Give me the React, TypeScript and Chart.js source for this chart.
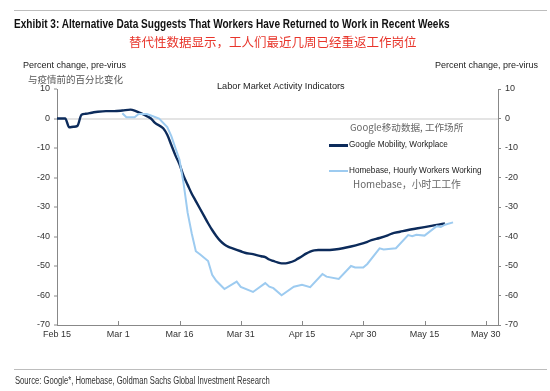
import React, { useEffect, useRef } from "react";
import { Chart, registerables } from "chart.js";

Chart.register(...registerables);

const googleDays = [0, 1, 2, 3, 4, 5, 6, 7, 8, 9, 10, 12, 14, 16, 18, 19, 20, 22, 23, 24, 26, 27, 28, 29, 30, 31, 32, 33, 34, 35, 36, 37, 38, 39, 40, 41, 42, 43, 44, 45, 46, 48, 50, 51, 52, 53, 54, 55, 56, 57, 58, 59, 60, 61, 62, 63, 64, 66, 68, 70, 72, 74, 76, 77, 79, 81, 82, 84, 86, 88, 90, 92, 94, 95];
const googleValues = [0, 0, 0, -3, -2.8, -2.5, 1.3, 1.6, 1.8, 2.1, 2.3, 2.5, 2.5, 2.7, 3.0, 2.7, 2.1, 0.8, 0, -1.5, -3.3, -5.5, -9, -12.5, -15.5, -19.5, -22.5, -25.5, -28, -30.5, -33, -35.5, -37.8, -39.8, -41.5, -42.7, -43.5, -44, -44.5, -45, -45.5, -46, -46.7, -47, -47.8, -48.3, -48.8, -49.1, -49.1, -48.8, -48.3, -47.5, -46.7, -45.8, -45.1, -44.7, -44.6, -44.6, -44.4, -44, -43.4, -42.7, -41.8, -41.2, -40.5, -39.6, -39, -38.4, -37.8, -37.3, -36.8, -36.3, -35.8, -35.6];

const homebaseDays = [16, 17, 19, 20, 22, 23, 25, 27, 28, 29, 30, 31, 32, 33, 34, 35, 37, 38, 39, 41, 44, 45, 48, 51, 52, 53, 55, 58, 60, 62, 65, 66, 69, 72, 73, 75, 76, 79, 80, 83, 86, 87, 88, 90, 93, 94, 95, 97];
const homebaseValues = [1.8, 0.4, 0.4, 1.5, 1.5, 1.0, 0, -2.9, -6, -10, -14, -22, -32, -39, -45, -46, -48.3, -53, -55, -57.8, -55.3, -57.1, -58.8, -55.8, -57, -57.5, -59.9, -57, -56.4, -57.2, -52.7, -53.6, -54.4, -50, -50.5, -50.5, -49.3, -44, -44.4, -44, -39.5, -39.9, -39.4, -39.7, -36.5, -36.8, -36, -35.2];

const xTickDays = [0, 15, 30, 45, 60, 75, 90, 105];
const xTickLabels = ["Feb 15", "Mar 1", "Mar 16", "Mar 31", "Apr 15", "Apr 30", "May 15", "May 30"];

const seriesNames = ["Google Mobility, Workplace", "Homebase, Hourly Workers Working"];
const seriesNamesZh = ["Google移动数据, 工作场所", "Homebase，小时工工作"];

const NAVY = "#0c2b5b";
const LIGHT = "#9dcbf0";
const FONT = "'Liberation Sans', Arial, sans-serif";
const CJK = "'Noto Sans CJK SC', sans-serif";

const innerXTicks = {
  id: "innerXTicks",
  afterDraw(chart: any) {
    const s = chart.scales.x;
    const ctx = chart.ctx;
    ctx.save();
    ctx.strokeStyle = "#888";
    ctx.lineWidth = 1;
    ctx.beginPath();
    s.ticks.forEach((t: any) => {
      const px = Math.round(s.getPixelForValue(t.value)) + 0.5;
      ctx.moveTo(px, s.top);
      ctx.lineTo(px, s.top - 4);
    });
    ctx.stroke();
    ctx.restore();
  },
};

export default function App() {
  const ref = useRef<HTMLCanvasElement | null>(null);

  useEffect(() => {
    if (!ref.current) return;
    const tickFont = { family: FONT, size: 9 };
    const chart = new Chart(ref.current, {
      type: "line",
      data: {
        datasets: [
          {
            label: seriesNames[1],
            data: homebaseDays.map((d, i) => ({ x: d, y: homebaseValues[i] })),
            borderColor: LIGHT,
            borderWidth: 2,
            pointRadius: 0,
            tension: 0,
            yAxisID: "y",
          },
          {
            label: seriesNames[0],
            data: googleDays.map((d, i) => ({ x: d, y: googleValues[i] })),
            borderColor: NAVY,
            borderWidth: 2.4,
            pointRadius: 0,
            cubicInterpolationMode: "monotone",
            yAxisID: "y",
          },
        ],
      },
      options: {
        animation: false,
        responsive: false,
        maintainAspectRatio: false,
        layout: { padding: { top: 89, bottom: 46, left: 0, right: 0 } },
        plugins: { legend: { display: false }, tooltip: { enabled: false } },
        scales: {
          x: {
            type: "linear",
            min: 0,
            max: 108,
            afterBuildTicks: (s: any) => {
              s.ticks = xTickDays.map((v) => ({ value: v }));
            },
            afterFit: (s: any) => {
              s.height = 20;
            },
            ticks: {
              autoSkip: false,
              maxRotation: 0,
              font: tickFont,
              color: "#333",
              padding: 4,
              callback: (v: any) => {
                const i = xTickDays.indexOf(Number(v));
                return i >= 0 ? xTickLabels[i] : "";
              },
            },
            grid: { display: true, drawOnChartArea: false, drawTicks: false, color: "#888" },
            border: { color: "#888", width: 1 },
          },
          y: {
            position: "left",
            min: -70,
            max: 10,
            afterFit: (s: any) => {
              s.width = 57;
            },
            ticks: { stepSize: 10, font: tickFont, color: "#333", padding: 4 },
            grid: {
              color: (c: any) => (c.tick && c.tick.value === 0 ? "#e4e4e4" : "rgba(0,0,0,0)"),
              lineWidth: (c: any) => (c.tick && c.tick.value === 0 ? 2 : 0),
              tickColor: "#888",
              tickWidth: 1,
              tickLength: 3,
            },
            border: { color: "#888", width: 1 },
          },
          y2: {
            position: "right",
            min: -70,
            max: 10,
            afterFit: (s: any) => {
              s.width = 52;
            },
            ticks: { stepSize: 10, font: tickFont, color: "#333", padding: 4 },
            grid: { drawOnChartArea: false, color: "#888", tickLength: 3 },
            border: { color: "#888", width: 1 },
          },
        },
      },
      plugins: [innerXTicks],
    } as any);
    return () => chart.destroy();
  }, []);

  const abs = (style: React.CSSProperties): React.CSSProperties => ({
    position: "absolute",
    whiteSpace: "nowrap",
    lineHeight: 1,
    ...style,
  });

  return (
    <div style={{ position: "fixed", left: 0, top: 0, width: 550, height: 391, background: "#fff", overflow: "hidden" }}>
      <canvas ref={ref} width={550} height={391} style={{ position: "absolute", left: 0, top: 0, width: 550, height: 391 }} />
      <div style={abs({ left: 14, top: 10, width: 533, height: 1, background: "#bdbdbd" })} />
      <div style={abs({ left: 14, top: 17, fontFamily: FONT, fontWeight: "bold", fontSize: 13.5, color: "#111", transform: "scaleX(0.745)", transformOrigin: "left top" })}>
        Exhibit 3: Alternative Data Suggests That Workers Have Returned to Work in Recent Weeks
      </div>
      <div style={abs({ left: 129, top: 36, fontFamily: CJK, fontSize: 12.5, color: "#e8352b" })}>
        替代性数据显示，工人们最近几周已经重返工作岗位
      </div>
      <div style={abs({ left: 23, top: 61, fontFamily: FONT, fontSize: 9, color: "#222" })}>Percent change, pre-virus</div>
      <div style={abs({ left: 28, top: 75, fontFamily: CJK, fontSize: 9.5, color: "#555" })}>与疫情前的百分比变化</div>
      <div style={abs({ left: 435, top: 61, fontFamily: FONT, fontSize: 9, color: "#222" })}>Percent change, pre-virus</div>
      <div style={abs({ left: 217, top: 82, fontFamily: FONT, fontSize: 9.2, color: "#222" })}>Labor Market Activity Indicators</div>

      <div style={abs({ left: 350, top: 123, fontFamily: CJK, fontSize: 9.6, color: "#666" })}>{seriesNamesZh[0]}</div>
      <div style={abs({ left: 329, top: 144, width: 19, height: 3, background: NAVY })} />
      <div style={abs({ left: 349, top: 141, fontFamily: FONT, fontSize: 8.2, color: "#222" })}>{seriesNames[0]}</div>
      <div style={abs({ left: 329, top: 170, width: 19, height: 2, background: LIGHT })} />
      <div style={abs({ left: 349, top: 167, fontFamily: FONT, fontSize: 8.2, color: "#222" })}>{seriesNames[1]}</div>
      <div style={abs({ left: 353, top: 180, fontFamily: CJK, fontSize: 9.8, color: "#666" })}>{seriesNamesZh[1]}</div>

      <div style={abs({ left: 14, top: 369, width: 533, height: 1, background: "#bdbdbd" })} />
      <div style={abs({ left: 15, top: 376, fontFamily: FONT, fontSize: 10, color: "#333", transform: "scaleX(0.765)", transformOrigin: "left top" })}>
        Source: Google*, Homebase, Goldman Sachs Global Investment Research
      </div>
    </div>
  );
}
